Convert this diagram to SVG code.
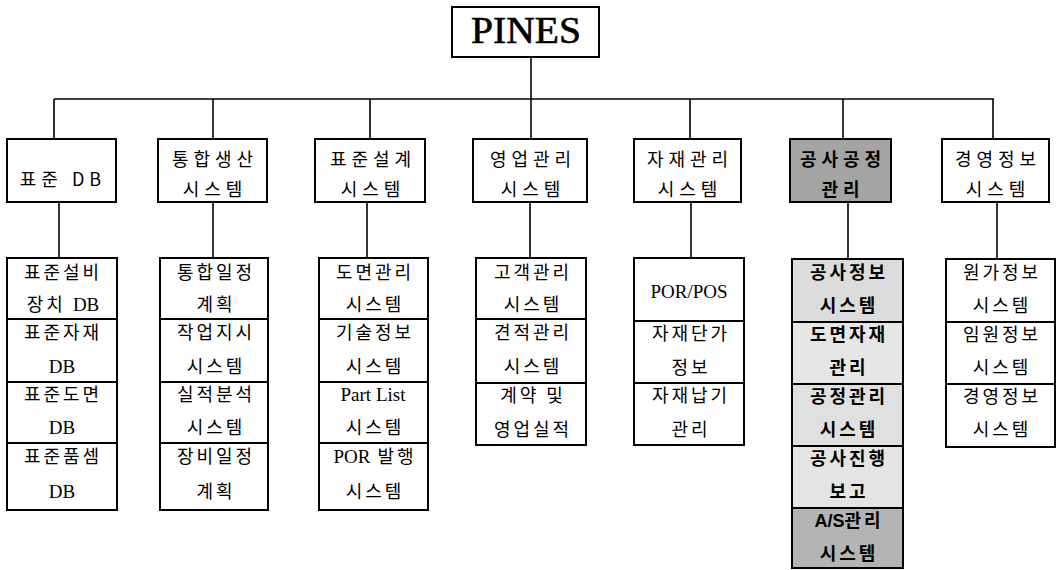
<svg xmlns="http://www.w3.org/2000/svg" width="1056" height="570" viewBox="0 0 1056 570">
<style>
.box{fill:#fff;stroke:#000;stroke-width:2}
.dark{fill:#a4a4a4;stroke:#000;stroke-width:2}
.lite{fill:#dcdcdc;stroke:#000;stroke-width:2}
.ln{stroke:#000;stroke-width:1.6;fill:none}
.t{font-family:"Noto Sans CJK KR","Liberation Sans",sans-serif;font-size:18px;letter-spacing:3px;text-anchor:middle;fill:#000}
.h{letter-spacing:5px}
.b{font-weight:bold}
.s{font-family:"Liberation Serif","Noto Sans CJK KR",serif;font-size:19px;letter-spacing:0}
</style>
<rect width="1056" height="570" fill="#fff"/>
<g id="connectors">
<line class="ln" x1="531" y1="57" x2="531" y2="99"/>
<line class="ln" x1="54" y1="99" x2="994" y2="99"/>
<line class="ln" x1="54" y1="99" x2="54" y2="139"/>
<line class="ln" x1="213" y1="99" x2="213" y2="139"/>
<line class="ln" x1="370" y1="99" x2="370" y2="139"/>
<line class="ln" x1="531" y1="99" x2="531" y2="139"/>
<line class="ln" x1="690" y1="99" x2="690" y2="139"/>
<line class="ln" x1="843" y1="99" x2="843" y2="139"/>
<line class="ln" x1="993" y1="99" x2="993" y2="139"/>
<line class="ln" x1="59" y1="202" x2="59" y2="258"/>
<line class="ln" x1="213" y1="202" x2="213" y2="258"/>
<line class="ln" x1="367" y1="202" x2="367" y2="258"/>
<line class="ln" x1="530" y1="202" x2="530" y2="258"/>
<line class="ln" x1="691" y1="202" x2="691" y2="258"/>
<line class="ln" x1="848" y1="202" x2="848" y2="259"/>
<line class="ln" x1="997" y1="202" x2="997" y2="259"/>
</g>
<g id="pines">
<rect class="box" x="452" y="7" width="147" height="50"/>
<text x="526" y="43" font-family="Liberation Serif,serif" font-size="37" stroke="#000" stroke-width="0.6" text-anchor="middle" textLength="110" lengthAdjust="spacingAndGlyphs">PINES</text>
</g>
<g id="l1-stddb"><rect class="box" x="7" y="139" width="109" height="63"/><text class="t h" x="63" y="186">표준 DB</text></g>
<g id="l1-prod"><rect class="box" x="158" y="139" width="109" height="63"/><text class="t h" x="215" y="166">통합생산</text><text class="t h" x="215" y="196">시스템</text></g>
<g id="l1-design"><rect class="box" x="315" y="139" width="110" height="63"/><text class="t h" x="373" y="166">표준설계</text><text class="t h" x="373" y="196">시스템</text></g>
<g id="l1-sales"><rect class="box" x="473" y="139" width="114" height="63"/><text class="t h" x="533" y="166">영업관리</text><text class="t h" x="533" y="196">시스템</text></g>
<g id="l1-mat"><rect class="box" x="634" y="139" width="107" height="63"/><text class="t h" x="690" y="166">자재관리</text><text class="t h" x="690" y="196">시스템</text></g>
<g id="l1-const"><rect class="dark" x="790" y="139" width="101" height="63"/><text class="t h b" x="843" y="166">공사공정</text><text class="t h b" x="843" y="196">관리</text></g>
<g id="l1-mgmt"><rect class="box" x="942" y="139" width="107" height="63"/><text class="t h" x="998" y="166">경영정보</text><text class="t h" x="998" y="196">시스템</text></g>

<g id="c1-1"><rect class="box" x="7" y="258" width="110" height="61"/><text class="t" x="63" y="279">표준설비</text><text class="t" x="63" y="311">장치 <tspan class="s">DB</tspan></text></g>
<g id="c1-2"><rect class="box" x="7" y="319" width="110" height="63"/><text class="t" x="63" y="339">표준자재</text><text class="t s" x="62" y="373">DB</text></g>
<g id="c1-3"><rect class="box" x="7" y="382" width="110" height="61"/><text class="t" x="63" y="401">표준도면</text><text class="t s" x="62" y="434">DB</text></g>
<g id="c1-4"><rect class="box" x="7" y="443" width="110" height="67"/><text class="t" x="63" y="463">표준품셈</text><text class="t s" x="62" y="498">DB</text></g>

<g id="c2-1"><rect class="box" x="160" y="258" width="108" height="61"/><text class="t" x="216" y="279">통합일정</text><text class="t" x="216" y="311">계획</text></g>
<g id="c2-2"><rect class="box" x="160" y="319" width="108" height="63"/><text class="t" x="216" y="339">작업지시</text><text class="t" x="216" y="373">시스템</text></g>
<g id="c2-3"><rect class="box" x="160" y="382" width="108" height="61"/><text class="t" x="216" y="401">실적분석</text><text class="t" x="216" y="434">시스템</text></g>
<g id="c2-4"><rect class="box" x="160" y="443" width="108" height="67"/><text class="t" x="216" y="463">장비일정</text><text class="t" x="216" y="498">계획</text></g>

<g id="c3-1"><rect class="box" x="319" y="258" width="109" height="61"/><text class="t" x="375" y="279">도면관리</text><text class="t" x="375" y="311">시스템</text></g>
<g id="c3-2"><rect class="box" x="319" y="319" width="109" height="63"/><text class="t" x="375" y="339">기술정보</text><text class="t" x="375" y="373">시스템</text></g>
<g id="c3-3"><rect class="box" x="319" y="382" width="109" height="61"/><text class="t s" x="373" y="401">Part List</text><text class="t" x="375" y="434">시스템</text></g>
<g id="c3-4"><rect class="box" x="319" y="443" width="109" height="67"/><text class="t" x="375" y="463"><tspan class="s">POR</tspan> 발행</text><text class="t" x="375" y="498">시스템</text></g>

<g id="c4-1"><rect class="box" x="476" y="258" width="110" height="61"/><text class="t" x="533" y="279">고객관리</text><text class="t" x="533" y="311">시스템</text></g>
<g id="c4-2"><rect class="box" x="476" y="319" width="110" height="64"/><text class="t" x="533" y="339">견적관리</text><text class="t" x="533" y="373">시스템</text></g>
<g id="c4-3"><rect class="box" x="476" y="383" width="110" height="62"/><text class="t" x="533" y="402">계약 및</text><text class="t" x="533" y="436">영업실적</text></g>

<g id="c5-1"><rect class="box" x="634" y="258" width="110" height="63"/><text class="t s" x="689" y="298">POR/POS</text></g>
<g id="c5-2"><rect class="box" x="634" y="321" width="110" height="62"/><text class="t" x="691" y="340">자재단가</text><text class="t" x="691" y="374">정보</text></g>
<g id="c5-3"><rect class="box" x="634" y="383" width="110" height="62"/><text class="t" x="691" y="402">자재납기</text><text class="t" x="691" y="436">관리</text></g>

<g id="c6-1"><rect class="lite" x="792" y="259" width="111" height="63"/><text class="t b" x="849" y="279">공사정보</text><text class="t b" x="849" y="312">시스템</text></g>
<g id="c6-2"><rect class="lite" x="792" y="322" width="111" height="62" style="fill:#e6e6e6"/><text class="t b" x="849" y="341">도면자재</text><text class="t b" x="849" y="374">관리</text></g>
<g id="c6-3"><rect class="lite" x="792" y="384" width="111" height="62" style="fill:#e0e0e0"/><text class="t b" x="849" y="403">공정관리</text><text class="t b" x="849" y="436">시스템</text></g>
<g id="c6-4"><rect class="lite" x="792" y="446" width="111" height="62" style="fill:#e4e4e4"/><text class="t b" x="849" y="465">공사진행</text><text class="t b" x="849" y="498">보고</text></g>
<g id="c6-5"><rect class="lite" x="792" y="508" width="111" height="60" style="fill:#b4b4b4"/><text class="t b" x="849" y="527"><tspan font-family="Liberation Sans,sans-serif" letter-spacing="0">A/S</tspan>관리</text><text class="t b" x="849" y="560">시스템</text></g>

<g id="c7-1"><rect class="box" x="946" y="259" width="109" height="63"/><text class="t" x="1002" y="279">원가정보</text><text class="t" x="1002" y="312">시스템</text></g>
<g id="c7-2"><rect class="box" x="946" y="322" width="109" height="62"/><text class="t" x="1002" y="341">임원정보</text><text class="t" x="1002" y="374">시스템</text></g>
<g id="c7-3"><rect class="box" x="946" y="384" width="109" height="63"/><text class="t" x="1002" y="403">경영정보</text><text class="t" x="1002" y="436">시스템</text></g>
</svg>
